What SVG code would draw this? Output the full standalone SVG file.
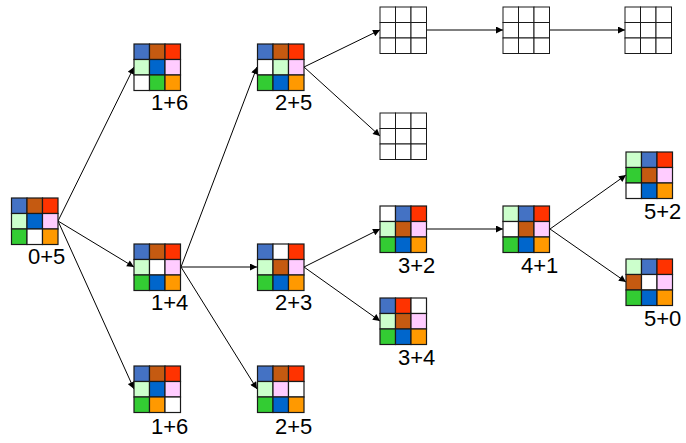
<svg xmlns="http://www.w3.org/2000/svg" width="686" height="443" viewBox="0 0 686 443">
  <style>
    .c rect { stroke: #1a1a1a; stroke-width: 1.2; }
    .B { fill: #4472C4; } .O { fill: #C55A11; } .R { fill: #FF3300; }
    .L { fill: #CCFFCC; } .D { fill: #0066CC; } .P { fill: #FFCCFF; }
    .G { fill: #33CC33; } .W { fill: #FFFFFF; } .Y { fill: #FF9900; }
    .lbl { font-family: "Liberation Sans", Arial, sans-serif; font-size: 22px; fill: #000; }
    #edges line { stroke: #000; stroke-width: 1; marker-end: url(#ah); }
  </style>
  <defs>
    <marker id="ah" viewBox="0 0 10 10" refX="10" refY="5" markerWidth="9" markerHeight="7" markerUnits="userSpaceOnUse" orient="auto">
      <path d="M0,0 L10,5 L0,10 z" fill="#000"/>
    </marker>
    <!-- empty 3x3 board for unexpanded states -->
    <g id="blank" fill="#ffffff" stroke="#1a1a1a" stroke-width="1">
      <rect x="0" y="0" width="15.5" height="15.5"/><rect x="15.5" y="0" width="15.5" height="15.5"/><rect x="31" y="0" width="15.5" height="15.5"/>
      <rect x="0" y="15.5" width="15.5" height="15.5"/><rect x="15.5" y="15.5" width="15.5" height="15.5"/><rect x="31" y="15.5" width="15.5" height="15.5"/>
      <rect x="0" y="31" width="15.5" height="15.5"/><rect x="15.5" y="31" width="15.5" height="15.5"/><rect x="31" y="31" width="15.5" height="15.5"/>
    </g>
  </defs>

  <!-- connectors -->
  <g id="edges">
    <line x1="58" y1="221" x2="134" y2="67"/>
    <line x1="58" y1="221" x2="134" y2="267"/>
    <line x1="58" y1="221" x2="134" y2="389"/>
    <line x1="181" y1="267" x2="257" y2="67"/>
    <line x1="181" y1="267" x2="257" y2="267"/>
    <line x1="181" y1="267" x2="257" y2="389"/>
    <line x1="304" y1="67" x2="380" y2="30"/>
    <line x1="304" y1="67" x2="380" y2="136"/>
    <line x1="304" y1="267" x2="380" y2="229"/>
    <line x1="304" y1="267" x2="380" y2="321"/>
    <line x1="427" y1="30" x2="503" y2="30"/>
    <line x1="550" y1="30" x2="625" y2="30"/>
    <line x1="427" y1="229" x2="503" y2="229"/>
    <line x1="550" y1="229" x2="626" y2="175"/>
    <line x1="550" y1="229" x2="626" y2="282"/>
  </g>

  <!-- state n0: 0+5 -->
  <g id="n0">
    <g class="c" transform="translate(11.5,198)">
      <rect class="B" x="0" y="0" width="15.5" height="15.5"/><rect class="O" x="15.5" y="0" width="15.5" height="15.5"/><rect class="R" x="31" y="0" width="15.5" height="15.5"/>
      <rect class="L" x="0" y="15.5" width="15.5" height="15.5"/><rect class="D" x="15.5" y="15.5" width="15.5" height="15.5"/><rect class="P" x="31" y="15.5" width="15.5" height="15.5"/>
      <rect class="G" x="0" y="31" width="15.5" height="15.5"/><rect class="W" x="15.5" y="31" width="15.5" height="15.5"/><rect class="Y" x="31" y="31" width="15.5" height="15.5"/>
    </g>
    <text class="lbl" x="28" y="264">0+5</text>
  </g>

  <!-- state n1a: 1+6 -->
  <g id="n1a">
    <g class="c" transform="translate(134,44)">
      <rect class="B" x="0" y="0" width="15.5" height="15.5"/><rect class="O" x="15.5" y="0" width="15.5" height="15.5"/><rect class="R" x="31" y="0" width="15.5" height="15.5"/>
      <rect class="L" x="0" y="15.5" width="15.5" height="15.5"/><rect class="D" x="15.5" y="15.5" width="15.5" height="15.5"/><rect class="P" x="31" y="15.5" width="15.5" height="15.5"/>
      <rect class="W" x="0" y="31" width="15.5" height="15.5"/><rect class="G" x="15.5" y="31" width="15.5" height="15.5"/><rect class="Y" x="31" y="31" width="15.5" height="15.5"/>
    </g>
    <text class="lbl" x="151" y="110">1+6</text>
  </g>

  <!-- state n1b: 1+4 -->
  <g id="n1b">
    <g class="c" transform="translate(134,244)">
      <rect class="B" x="0" y="0" width="15.5" height="15.5"/><rect class="O" x="15.5" y="0" width="15.5" height="15.5"/><rect class="R" x="31" y="0" width="15.5" height="15.5"/>
      <rect class="L" x="0" y="15.5" width="15.5" height="15.5"/><rect class="W" x="15.5" y="15.5" width="15.5" height="15.5"/><rect class="P" x="31" y="15.5" width="15.5" height="15.5"/>
      <rect class="G" x="0" y="31" width="15.5" height="15.5"/><rect class="D" x="15.5" y="31" width="15.5" height="15.5"/><rect class="Y" x="31" y="31" width="15.5" height="15.5"/>
    </g>
    <text class="lbl" x="151" y="310">1+4</text>
  </g>

  <!-- state n1c: 1+6 -->
  <g id="n1c">
    <g class="c" transform="translate(134,366)">
      <rect class="B" x="0" y="0" width="15.5" height="15.5"/><rect class="O" x="15.5" y="0" width="15.5" height="15.5"/><rect class="R" x="31" y="0" width="15.5" height="15.5"/>
      <rect class="L" x="0" y="15.5" width="15.5" height="15.5"/><rect class="D" x="15.5" y="15.5" width="15.5" height="15.5"/><rect class="P" x="31" y="15.5" width="15.5" height="15.5"/>
      <rect class="G" x="0" y="31" width="15.5" height="15.5"/><rect class="Y" x="15.5" y="31" width="15.5" height="15.5"/><rect class="W" x="31" y="31" width="15.5" height="15.5"/>
    </g>
    <text class="lbl" x="151" y="434">1+6</text>
  </g>

  <!-- state n2a: 2+5 -->
  <g id="n2a">
    <g class="c" transform="translate(257.5,44)">
      <rect class="B" x="0" y="0" width="15.5" height="15.5"/><rect class="O" x="15.5" y="0" width="15.5" height="15.5"/><rect class="R" x="31" y="0" width="15.5" height="15.5"/>
      <rect class="W" x="0" y="15.5" width="15.5" height="15.5"/><rect class="L" x="15.5" y="15.5" width="15.5" height="15.5"/><rect class="P" x="31" y="15.5" width="15.5" height="15.5"/>
      <rect class="G" x="0" y="31" width="15.5" height="15.5"/><rect class="D" x="15.5" y="31" width="15.5" height="15.5"/><rect class="Y" x="31" y="31" width="15.5" height="15.5"/>
    </g>
    <text class="lbl" x="275" y="110">2+5</text>
  </g>

  <!-- state n2b: 2+3 -->
  <g id="n2b">
    <g class="c" transform="translate(257.5,244)">
      <rect class="B" x="0" y="0" width="15.5" height="15.5"/><rect class="W" x="15.5" y="0" width="15.5" height="15.5"/><rect class="R" x="31" y="0" width="15.5" height="15.5"/>
      <rect class="L" x="0" y="15.5" width="15.5" height="15.5"/><rect class="O" x="15.5" y="15.5" width="15.5" height="15.5"/><rect class="P" x="31" y="15.5" width="15.5" height="15.5"/>
      <rect class="G" x="0" y="31" width="15.5" height="15.5"/><rect class="D" x="15.5" y="31" width="15.5" height="15.5"/><rect class="Y" x="31" y="31" width="15.5" height="15.5"/>
    </g>
    <text class="lbl" x="275" y="310">2+3</text>
  </g>

  <!-- state n2c: 2+5 -->
  <g id="n2c">
    <g class="c" transform="translate(257.5,366)">
      <rect class="B" x="0" y="0" width="15.5" height="15.5"/><rect class="O" x="15.5" y="0" width="15.5" height="15.5"/><rect class="R" x="31" y="0" width="15.5" height="15.5"/>
      <rect class="L" x="0" y="15.5" width="15.5" height="15.5"/><rect class="P" x="15.5" y="15.5" width="15.5" height="15.5"/><rect class="W" x="31" y="15.5" width="15.5" height="15.5"/>
      <rect class="G" x="0" y="31" width="15.5" height="15.5"/><rect class="D" x="15.5" y="31" width="15.5" height="15.5"/><rect class="Y" x="31" y="31" width="15.5" height="15.5"/>
    </g>
    <text class="lbl" x="275" y="434">2+5</text>
  </g>

  <!-- unexpanded states -->
  <g id="n3a"><use href="#blank" transform="translate(380,7)"/></g>
  <g id="n3b"><use href="#blank" transform="translate(380,113)"/></g>
  <g id="n4a"><use href="#blank" transform="translate(503,7)"/></g>
  <g id="n5a"><use href="#blank" transform="translate(625,7)"/></g>

  <!-- state n3c: 3+2 -->
  <g id="n3c">
    <g class="c" transform="translate(380,206)">
      <rect class="W" x="0" y="0" width="15.5" height="15.5"/><rect class="B" x="15.5" y="0" width="15.5" height="15.5"/><rect class="R" x="31" y="0" width="15.5" height="15.5"/>
      <rect class="L" x="0" y="15.5" width="15.5" height="15.5"/><rect class="O" x="15.5" y="15.5" width="15.5" height="15.5"/><rect class="P" x="31" y="15.5" width="15.5" height="15.5"/>
      <rect class="G" x="0" y="31" width="15.5" height="15.5"/><rect class="D" x="15.5" y="31" width="15.5" height="15.5"/><rect class="Y" x="31" y="31" width="15.5" height="15.5"/>
    </g>
    <text class="lbl" x="398" y="273">3+2</text>
  </g>

  <!-- state n3d: 3+4 -->
  <g id="n3d">
    <g class="c" transform="translate(380,298)">
      <rect class="B" x="0" y="0" width="15.5" height="15.5"/><rect class="R" x="15.5" y="0" width="15.5" height="15.5"/><rect class="W" x="31" y="0" width="15.5" height="15.5"/>
      <rect class="L" x="0" y="15.5" width="15.5" height="15.5"/><rect class="O" x="15.5" y="15.5" width="15.5" height="15.5"/><rect class="P" x="31" y="15.5" width="15.5" height="15.5"/>
      <rect class="G" x="0" y="31" width="15.5" height="15.5"/><rect class="D" x="15.5" y="31" width="15.5" height="15.5"/><rect class="Y" x="31" y="31" width="15.5" height="15.5"/>
    </g>
    <text class="lbl" x="398" y="365">3+4</text>
  </g>

  <!-- state n4b: 4+1 -->
  <g id="n4b">
    <g class="c" transform="translate(503,206)">
      <rect class="L" x="0" y="0" width="15.5" height="15.5"/><rect class="B" x="15.5" y="0" width="15.5" height="15.5"/><rect class="R" x="31" y="0" width="15.5" height="15.5"/>
      <rect class="W" x="0" y="15.5" width="15.5" height="15.5"/><rect class="O" x="15.5" y="15.5" width="15.5" height="15.5"/><rect class="P" x="31" y="15.5" width="15.5" height="15.5"/>
      <rect class="G" x="0" y="31" width="15.5" height="15.5"/><rect class="D" x="15.5" y="31" width="15.5" height="15.5"/><rect class="Y" x="31" y="31" width="15.5" height="15.5"/>
    </g>
    <text class="lbl" x="521" y="273">4+1</text>
  </g>

  <!-- state n5b: 5+2 -->
  <g id="n5b">
    <g class="c" transform="translate(626,152)">
      <rect class="L" x="0" y="0" width="15.5" height="15.5"/><rect class="B" x="15.5" y="0" width="15.5" height="15.5"/><rect class="R" x="31" y="0" width="15.5" height="15.5"/>
      <rect class="G" x="0" y="15.5" width="15.5" height="15.5"/><rect class="O" x="15.5" y="15.5" width="15.5" height="15.5"/><rect class="P" x="31" y="15.5" width="15.5" height="15.5"/>
      <rect class="W" x="0" y="31" width="15.5" height="15.5"/><rect class="D" x="15.5" y="31" width="15.5" height="15.5"/><rect class="Y" x="31" y="31" width="15.5" height="15.5"/>
    </g>
    <text class="lbl" x="644" y="219">5+2</text>
  </g>

  <!-- state n5c: 5+0 -->
  <g id="n5c">
    <g class="c" transform="translate(626,259)">
      <rect class="L" x="0" y="0" width="15.5" height="15.5"/><rect class="B" x="15.5" y="0" width="15.5" height="15.5"/><rect class="R" x="31" y="0" width="15.5" height="15.5"/>
      <rect class="O" x="0" y="15.5" width="15.5" height="15.5"/><rect class="W" x="15.5" y="15.5" width="15.5" height="15.5"/><rect class="P" x="31" y="15.5" width="15.5" height="15.5"/>
      <rect class="G" x="0" y="31" width="15.5" height="15.5"/><rect class="D" x="15.5" y="31" width="15.5" height="15.5"/><rect class="Y" x="31" y="31" width="15.5" height="15.5"/>
    </g>
    <text class="lbl" x="644" y="326">5+0</text>
  </g>
</svg>
